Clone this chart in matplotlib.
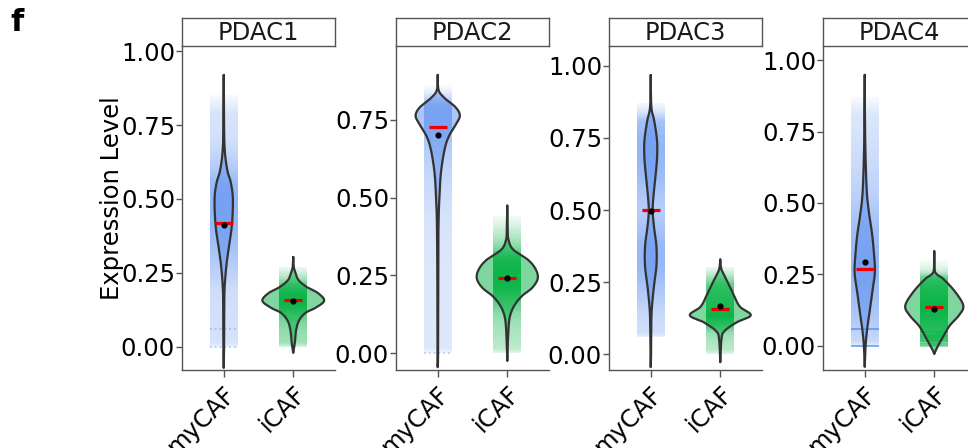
import numpy as np
import matplotlib
matplotlib.use("Agg")
import matplotlib.pyplot as plt
from matplotlib.colors import to_rgb

plt.rcParams["font.family"] = "DejaVu Sans"

panels = ["PDAC1", "PDAC2", "PDAC3", "PDAC4"]
groups = ["myCAF", "iCAF"]

# violin outlines: y level -> half width (category units)
p1_my_y = [0.919, 0.80, 0.70, 0.64, 0.59, 0.56, 0.51, 0.45, 0.395, 0.34, 0.283, 0.226, 0.17, 0.0, -0.071]
p1_my_w = [0, 0.004, 0.008, 0.024, 0.058, 0.098, 0.13, 0.128, 0.11, 0.075, 0.042, 0.02, 0.009, 0.005, 0]
p1_ic_y = [0.304, 0.27, 0.25, 0.226, 0.203, 0.182, 0.156, 0.132, 0.115, 0.09, 0.057, 0.014, -0.02]
p1_ic_w = [0, 0.008, 0.033, 0.075, 0.19, 0.355, 0.444, 0.318, 0.175, 0.084, 0.041, 0.023, 0]

p2_my_y = [0.894, 0.846, 0.82, 0.79, 0.763, 0.734, 0.696, 0.654, 0.58, 0.50, 0.42, 0.26, 0.0, -0.045]
p2_my_w = [0, 0.012, 0.096, 0.258, 0.318, 0.258, 0.158, 0.098, 0.046, 0.024, 0.012, 0.006, 0.005, 0]
p2_ic_y = [0.474, 0.40, 0.365, 0.333, 0.30, 0.27, 0.24, 0.21, 0.183, 0.15, 0.11, 0.045, -0.025]
p2_ic_w = [0, 0.006, 0.017, 0.084, 0.298, 0.408, 0.438, 0.358, 0.208, 0.093, 0.031, 0.01, 0]

p3_my_y = [0.968, 0.858, 0.81, 0.743, 0.686, 0.63, 0.56, 0.50, 0.443, 0.374, 0.305, 0.235, 0.166, 0.11, 0.0, -0.045]
p3_my_w = [0, 0.009, 0.05, 0.09, 0.092, 0.074, 0.044, 0.028, 0.046, 0.082, 0.082, 0.046, 0.018, 0.008, 0.005, 0]
p3_ic_y = [0.328, 0.294, 0.26, 0.214, 0.166, 0.135, 0.11, 0.08, 0.052, -0.028]
p3_ic_w = [0, 0.017, 0.084, 0.178, 0.278, 0.438, 0.233, 0.06, 0.017, 0]

p4_my_y = [0.948, 0.72, 0.547, 0.467, 0.397, 0.327, 0.258, 0.188, 0.118, 0.06, 0.0, -0.073]
p4_my_w = [0, 0.007, 0.028, 0.06, 0.103, 0.132, 0.146, 0.108, 0.07, 0.035, 0.012, 0]
p4_ic_y = [0.331, 0.268, 0.25, 0.234, 0.188, 0.14, 0.105, 0.07, 0.024, -0.01, -0.028]
p4_ic_w = [0, 0.005, 0.04, 0.132, 0.305, 0.418, 0.348, 0.218, 0.108, 0.031, 0]

# medians (red bars) and means (black dots), [myCAF, iCAF]
medians = [[0.419, 0.159], [0.728, 0.24], [0.50, 0.158], [0.268, 0.136]]
means = [[0.412, 0.154], [0.70, 0.24], [0.497, 0.166], [0.293, 0.13]]

# extent of the jittered cells, [myCAF, iCAF]
cloud_lo = [[0.0, 0.0], [0.0, 0.0], [0.06, 0.0], [0.0, 0.0]]
cloud_hi = [[0.85, 0.27], [0.86, 0.44], [0.87, 0.30], [0.87, 0.30]]

# levels where many cells pile up (visible horizontal streaks)
p1_my_streaks = [0.0, 0.06]
p2_my_streaks = [0.0]
p4_my_streaks = [0.0, 0.06]
p4_ic_streaks = [0.0, 0.008, 0.016, 0.024, 0.032, 0.04, 0.048]

ylims = [(-0.078, 1.017), (-0.054, 0.987), (-0.055, 1.069), (-0.084, 1.049)]
yticks = [[0, 0.25, 0.5, 0.75, 1.0], [0, 0.25, 0.5, 0.75], [0, 0.25, 0.5, 0.75, 1.0], [0, 0.25, 0.5, 0.75, 1.0]]

outlines = [[(p1_my_y, p1_my_w), (p1_ic_y, p1_ic_w)],
            [(p2_my_y, p2_my_w), (p2_ic_y, p2_ic_w)],
            [(p3_my_y, p3_my_w), (p3_ic_y, p3_ic_w)],
            [(p4_my_y, p4_my_w), (p4_ic_y, p4_ic_w)]]
streaks = [[(p1_my_streaks, 0.45, ":"), None],
           [(p2_my_streaks, 0.4, ":"), None],
           [None, None],
           [(p4_my_streaks, 0.8, "-"), (p4_ic_streaks, 0.45, "-")]]

point_colors = ["#5B8FF0", "#00B140"]
cloud_alpha = [0.65, 0.9]
GRAY = "#555555"
FS = 17.5


def smooth_outline(y, w, per=24):
    # Catmull-Rom curve through the read points
    pts = np.column_stack([y, w]).astype(float)
    P = np.vstack([pts[0], pts, pts[-1]])
    t = np.linspace(0, 1, per, endpoint=False)[:, None]
    out = []
    for i in range(1, len(P) - 2):
        p0, p1, p2, p3 = P[i - 1], P[i], P[i + 1], P[i + 2]
        out.append(0.5 * (2 * p1 + (p2 - p0) * t + (2 * p0 - 5 * p1 + 4 * p2 - p3) * t ** 2
                          + (3 * p1 - p0 - 3 * p2 + p3) * t ** 3))
    out.append(pts[-1:])
    c = np.vstack(out)
    return c[:, 0], np.clip(c[:, 1], 0, None)


fig = plt.figure(figsize=(9.68, 4.48), dpi=100)
W, H = 968.0, 448.0
lefts = [182, 396, 609, 823]

for p, name in enumerate(panels):
    ax = fig.add_axes([lefts[p] / W, (H - 370) / H, 153 / W, 324 / H])
    sax = fig.add_axes([lefts[p] / W, (H - 46) / H, 153 / W, 28 / H])

    for g in range(2):
        c = g + 1
        ys, ws = smooth_outline(*outlines[p][g])
        order = np.argsort(ys)
        wmax = ws.max()

        # jittered cells rendered as a band whose opacity follows the density
        lo, hi = cloud_lo[p][g], cloud_hi[p][g]
        cy = np.linspace(lo, hi, 300)
        dens = np.interp(cy, ys[order], ws[order]) / wmax
        fade = np.clip((hi - cy) / 0.06, 0, 1) * np.clip((cy - lo) / 0.02 + 0.3, 0, 1)
        rgba = np.zeros((len(cy), 1, 4))
        rgba[:, 0, :3] = to_rgb(point_colors[g])
        rgba[:, 0, 3] = cloud_alpha[g] * (0.1 + 0.9 * dens ** 0.35) * (0.25 + 0.75 * fade)
        ax.imshow(rgba, extent=[c - 0.2, c + 0.2, lo, hi], origin="lower",
                  aspect="auto", interpolation="bilinear", zorder=1)

        st = streaks[p][g]
        if st is not None:
            ax.hlines(st[0], c - 0.2, c + 0.2, color=point_colors[g], alpha=st[1],
                      lw=1.3, linestyles=st[2], zorder=1.5)

        ax.fill_betweenx(ys, c - ws, c + ws, color=point_colors[g], alpha=0.5,
                         lw=0, zorder=2)
        xo = np.concatenate([c - ws, (c + ws)[::-1], [c - ws[0]]])
        yo = np.concatenate([ys, ys[::-1], [ys[0]]])
        ax.plot(xo, yo, color="#333333", lw=1.6, zorder=3, solid_joinstyle="round",
                solid_capstyle="round")

        ax.hlines(medians[p][g], c - 0.13, c + 0.13, color="#EE0000", lw=2.3, zorder=4)
        ax.scatter([c], [means[p][g]], s=20, color="black", zorder=5, lw=0)

    ax.set_xlim(0.4, 2.6)
    ax.set_ylim(*ylims[p])
    ax.set_yticks(yticks[p])
    ax.set_yticklabels([f"{t:.2f}" for t in yticks[p]], fontsize=FS)
    ax.set_xticks([1, 2])
    ax.set_xticklabels(groups, rotation=45, ha="right", rotation_mode="anchor", fontsize=FS)
    ax.tick_params(axis="both", color=GRAY, length=4, width=1, labelcolor="black")
    ax.tick_params(axis="x", length=5, pad=3)
    ax.tick_params(axis="y", pad=1)
    for s in ["top", "right"]:
        ax.spines[s].set_visible(False)
    for s in ["left", "bottom"]:
        ax.spines[s].set_color(GRAY)
        ax.spines[s].set_linewidth(1)

    sax.set_xticks([])
    sax.set_yticks([])
    for s in sax.spines.values():
        s.set_color(GRAY)
        s.set_linewidth(1)
    sax.text(0.5, 0.45, name, ha="center", va="center", fontsize=FS,
             color="#1A1A1A", transform=sax.transAxes)

fig.text(112 / W, 1 - 198 / H, "Expression Level", rotation=90, ha="center",
         va="center", fontsize=FS)
fig.text(10 / W, 1 - 8 / H, "f", fontsize=22, fontweight="bold", va="top", ha="left")

fig.savefig("out.png", dpi=100)
plt.close(fig)
